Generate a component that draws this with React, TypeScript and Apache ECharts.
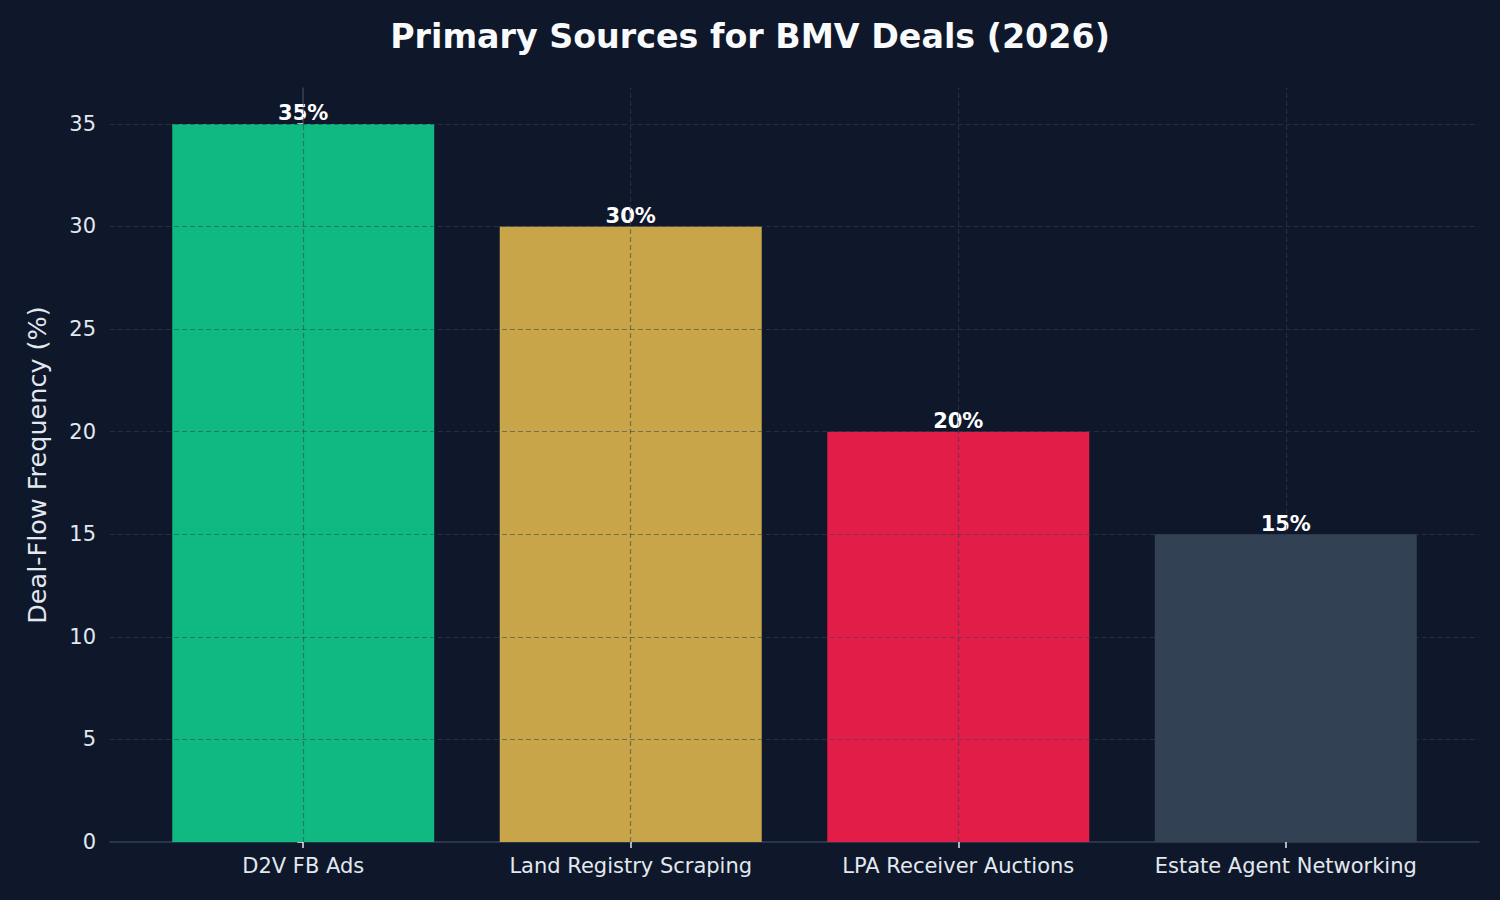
import React, { useEffect, useRef } from "react";
import * as echarts from "echarts";

const categories = ["D2V FB Ads", "Land Registry Scraping", "LPA Receiver Auctions", "Estate Agent Networking"];
const values = [35, 30, 20, 15];
const barColors = ["#10b981", "#c9a54a", "#e11d48", "#334155"];
const yTicks = [0, 5, 10, 15, 20, 25, 30, 35];
const xPositions = [0, 1, 2, 3];
const yMax = 36.75;
const xMin = -0.59;
const xMax = 3.59;

export default function App() {
  const ref = useRef<HTMLDivElement>(null);
  useEffect(() => {
    document.body.style.margin = "0";
    document.body.style.background = "#0f172a";
    const chart = echarts.init(ref.current!, null, { renderer: "svg" });
    const gridStyle = { type: [5, 3] as any, color: "rgba(51,65,85,0.55)", width: 1.2 };
    const markData: any[] = [
      ...xPositions.map((x) => ({ xAxis: x })),
      ...yTicks.filter((v) => v > 0).map((v) => ({ yAxis: v })),
    ];
    chart.setOption({
      animation: false,
      backgroundColor: "#0f172a",
      textStyle: { fontFamily: "DejaVu Sans" },
      title: {
        text: "Primary Sources for BMV Deals (2026)",
        left: "center",
        top: 15,
        textStyle: { color: "#f8fafc", fontSize: 33.3, fontWeight: "bold", fontFamily: "DejaVu Sans" },
      },
      grid: { left: 110, right: 21, top: 88, bottom: 58 },
      xAxis: {
        type: "value",
        min: xMin,
        max: xMax,
        splitLine: { show: false },
        axisLine: { show: true, lineStyle: { color: "#334155", width: 1.5 } },
        axisTick: { show: true, customValues: xPositions, length: 6, lineStyle: { color: "#e2e8f0", width: 1.5 } },
        axisLabel: {
          customValues: xPositions,
          formatter: (v: number) => categories[Math.round(v)] ?? "",
          color: "#e2e8f0",
          fontSize: 21,
          margin: 13,
          fontFamily: "DejaVu Sans",
        },
      },
      yAxis: {
        type: "value",
        min: 0,
        max: yMax,
        splitLine: { show: false },
        name: "Deal-Flow Frequency (%)",
        nameLocation: "middle",
        nameGap: 60,
        nameTextStyle: { color: "#e2e8f0", fontSize: 25.5, fontFamily: "DejaVu Sans" },
        axisLine: { show: true, lineStyle: { color: "#334155", width: 1.5 } },
        axisTick: { show: true, customValues: yTicks, length: 6, lineStyle: { color: "#e2e8f0", width: 1.5 } },
        axisLabel: {
          customValues: yTicks,
          color: "#e2e8f0",
          fontSize: 21,
          margin: 14,
          fontFamily: "DejaVu Sans",
        },
      },
      series: [
        {
          type: "bar",
          barWidth: 262,
          data: values.map((v, i) => ({ value: [xPositions[i], v], itemStyle: { color: barColors[i] } })),
          label: {
            show: true,
            position: "top",
            distance: 0,
            formatter: (p: any) => `${p.value[1]}%`,
            color: "#ffffff",
            fontWeight: "bold",
            fontSize: 21,
            fontFamily: "DejaVu Sans",
          },
          markLine: {
            silent: true,
            symbol: ["none", "none"],
            label: { show: false },
            lineStyle: gridStyle,
            data: markData,
            z: 5,
          },
        },
      ],
    });
    return () => chart.dispose();
  }, []);
  return <div ref={ref} style={{ width: 1500, height: 900, position: "absolute", left: 0, top: 0 }} />;
}
